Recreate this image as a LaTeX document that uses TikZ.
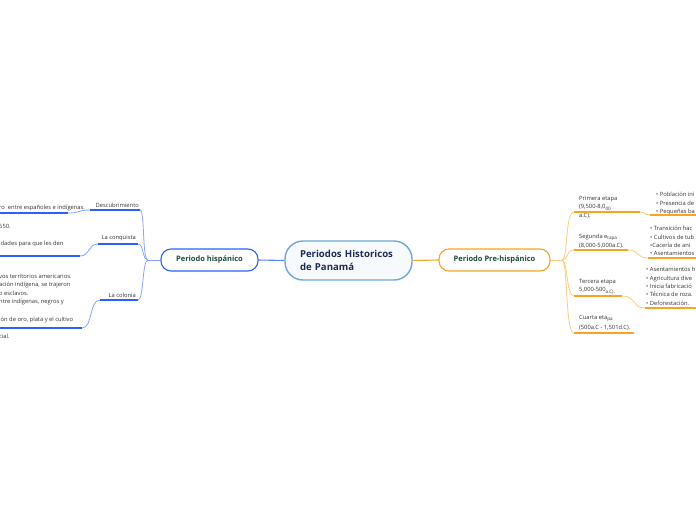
\documentclass[tikz,border=0pt]{standalone}
\usepackage{fontspec}
\setmainfont{Open Sans}
\definecolor{bblue}{HTML}{2B5FFF}
\definecolor{bthin}{HTML}{86A4FF}
\definecolor{oor}{HTML}{F8A422}
\definecolor{othin}{HTML}{FBCB80}
\definecolor{cblue}{HTML}{6BA6DA}
\definecolor{cfill}{HTML}{F7FAFD}
\definecolor{navy}{HTML}{1C2B4E}
\definecolor{dgreen}{HTML}{1E4A3D}
\definecolor{leafgray}{HTML}{333333}
\newcommand{\lo}[1]{\raisebox{-1.3pt}{\fontsize{4.6}{5}\selectfont #1}}
\begin{document}
\begin{tikzpicture}[x=1pt,y=-1pt,
  leaf/.style={font=\fontsize{5.8}{8.4}\selectfont, text=leafgray, inner sep=0pt},
  leafl/.style={leaf, align=left, anchor=north west},
  leafr/.style={leaf, align=left, anchor=north west},
  bline/.style={draw=bblue, line width=1.7pt},
  bconn/.style={draw=bthin, line width=0.8pt},
  oline/.style={draw=oor, line width=1.7pt},
  oconn/.style={draw=othin, line width=0.8pt},
  mainnode/.style={rounded corners=10pt, line width=1.1pt, fill=white, minimum height=22pt,
     inner sep=0pt, font=\fontsize{7.5}{8}\selectfont\bfseries, text=dgreen}]
\useasboundingbox (0,0) rectangle (696,520);
\clip (0,0) rectangle (696,520);

% central node
\node[draw=cblue, line width=1.4pt, fill=cfill, rounded corners=18pt, minimum height=39pt,
      text width=97pt, inner xsep=15pt, inner ysep=0pt, align=left, text=navy,
      font=\fontsize{9.6}{13.5}\selectfont\bfseries] (root) at (348.5,260.5) {Periodos Historicos\\de Panamá};

\node[mainnode, draw=bblue, minimum width=97pt] (hisp) at (209.5,260) {Periodo hispánico};
\node[mainnode, draw=oor, minimum width=111pt] (pre) at (494.5,260) {Periodo Pre-hispánico};

\draw[draw=bblue!80, line width=1.1pt] (root.west) -- (hisp.east);
\draw[draw=oor, line width=1.1pt] (root.east) -- (pre.west);

% ---------- left side ----------
\coordinate (hj) at (148,260);
\draw[bconn] (hisp.west) -- (hj);

\node[leaf, anchor=south east] (desc) at (139,208) {Descubrimiento};
\coordinate (d1) at (90,210); \coordinate (d2) at (140,210);
\draw[bline] (d1) -- (d2);
\draw[bconn] (hj) .. controls (142,260) and (145,210) .. (d2);

\node[leaf, anchor=south east] (conq) at (136,241) {La conquista};
\coordinate (c1) at (98,244); \coordinate (c2) at (138,244);
\draw[bline] (c1) -- (c2);
\draw[bconn] (hj) .. controls (142,260) and (144,244) .. (c2);

\node[leaf, anchor=south east] (colo) at (136,298) {La colonia};
\coordinate (k1) at (100,300); \coordinate (k2) at (138,300);
\draw[bline] (k1) -- (k2);
\draw[bconn] (hj) .. controls (142,260) and (144,300) .. (k2);

% left leaves
\node[leafl] (dl) at (-1,205) {ro\ \ entre españoles e indígenas.};
\coordinate (dl1) at (0,213); \coordinate (dl2) at (68,213);
\draw[bline] (dl1) -- (dl2);
\draw[bconn] (dl2) .. controls (80,213) and (78,210) .. (d1);

\node[leafl] (cl1) at (-1,224) {550.};
\node[leafl] (cl2) at (-1,241) {idades para que les den};
\coordinate (cl3) at (0,256); \coordinate (cl4) at (80,256);
\draw[bline] (cl3) -- (cl4);
\draw[bconn] (cl4) .. controls (90,256) and (88,244) .. (c1);

\node[leafl] (kl1) at (-1,274) {vos territorios americanos.\\ación indígena, se trajeron\\o esclavos.\\ntre indígenas, negros y};
\node[leafl] (kl2) at (-1,317) {ión de oro, plata y el cultivo};
\coordinate (kl3) at (0,328); \coordinate (kl4) at (82,328);
\draw[bline] (kl3) -- (kl4);
\draw[bconn] (kl4) .. controls (93,328) and (89,300) .. (k1);
\node[leafl] (kl5) at (-1,334) {cial.};

% ---------- right side ----------
\coordinate (pj) at (562,260);
\draw[oconn] (pre.east) -- (pj);

\node[leafr] (p1) at (579,196) {Primera etapa\\(9,500-8,0\lo{00}\\a.C).};
\coordinate (p1a) at (574,212); \coordinate (p1b) at (640,212);
\draw[oline] (p1a) -- (p1b);
\draw[oconn] (pj) .. controls (568,260) and (565,212) .. (p1a);

\node[leafr] (p2) at (579,234) {Segunda e\lo{tapa}\\(8,000-5,000a.C).};
\coordinate (p2a) at (574,250); \coordinate (p2b) at (628,250);
\draw[oline] (p2a) -- (p2b);
\draw[oconn] (pj) .. controls (568,260) and (566,250) .. (p2a);

\node[leafr] (p3) at (579,279) {Tercera etapa\\5,000-500\lo{a.C).}};
\coordinate (p3a) at (574,296); \coordinate (p3b) at (622,296);
\draw[oline] (p3a) -- (p3b);
\draw[oconn] (pj) .. controls (568,260) and (566,296) .. (p3a);

\node[leafr] (p4) at (579,315) {Cuarta eta\lo{pa}\\[1.5pt](500a.C - 1,501d.C).};
\coordinate (p4a) at (574,333); \coordinate (p4b) at (634,333);
\draw[oline] (p4a) -- (p4b);
\draw[oconn] (pj) .. controls (568,260) and (565,333) .. (p4a);

% right leaves
\node[leafr] (r1) at (656,192) {• Población ini\\• Presencia de\\• Pequeñas ba};
\coordinate (r1a) at (650,215); \coordinate (r1b) at (696,215);
\draw[oline] (r1a) -- (r1b);
\draw[oconn] (p1b) .. controls (646,212) and (644,215) .. (r1a);

\node[leafr] (r2) at (650,226) {• Transición hac\\• Cultivos de tub\\•Cacería de ani\\• Asentamientos};
\coordinate (r2a) at (648,258); \coordinate (r2b) at (696,258);
\draw[oline] (r2a) -- (r2b);
\draw[oconn] (p2b) .. controls (640,250) and (636,258) .. (r2a);

\node[leafr] (r3) at (646,267) {• Asentamientos h\\• Agricultura dive\\• Inicia fabricació\\• Técnica de roza.\\• Deforestación.};
\coordinate (r3a) at (645,308); \coordinate (r3b) at (696,308);
\draw[oline] (r3a) -- (r3b);
\draw[oconn] (p3b) .. controls (636,296) and (632,308) .. (r3a);
\end{tikzpicture}
\end{document}
